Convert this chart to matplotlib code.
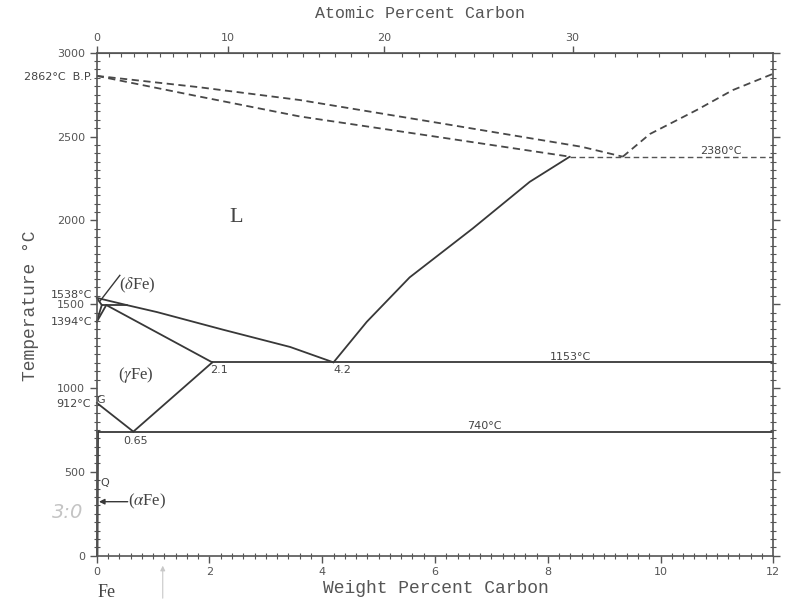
import numpy as np
import matplotlib
matplotlib.use("Agg")
import matplotlib.pyplot as plt
from matplotlib.ticker import MultipleLocator, FixedLocator

# phase boundaries (weight % C, deg C)
liq_hypo_w = [0.0, 0.53, 1.07, 2.24, 3.43, 4.2]
liq_hypo_T = [1538, 1495, 1453, 1348, 1245, 1153]
liq_hyper_w = [4.2, 4.79, 5.55, 6.67, 7.68, 8.39]
liq_hyper_T = [1153, 1395, 1660, 1952, 2230, 2380]
solidus_w = [0.17, 2.05]
solidus_T = [1495, 1153]
acm_w = [0.65, 2.05]
acm_T = [740, 1153]
a3_w = [0.0, 0.65]
a3_T = [912, 740]
eutectic_w = [2.05, 12.0]
eutectic_T = [1153, 1153]
eutectoid_w = [0.0, 12.0]
eutectoid_T = [740, 740]
alpha_w = [0.02, 0.01]
alpha_T = [740, 0]

# delta iron corner
delta_sol_w = [0.0, 0.09]
delta_sol_T = [1538, 1495]
delta_gam_w = [0.0, 0.09]
delta_gam_T = [1394, 1495]
gam_delta_w = [0.0, 0.17]
gam_delta_T = [1394, 1495]
perit_w = [0.09, 0.53]
perit_T = [1495, 1495]

# dashed (gas / graphite) boundaries
gas_up_w = [0.0, 1.8, 3.6, 6.3, 8.6, 9.33]
gas_up_T = [2862, 2795, 2718, 2568, 2439, 2380]
gas_lo_w = [0.0, 1.8, 3.6, 6.3, 8.39]
gas_lo_T = [2862, 2740, 2620, 2485, 2380]
gas_rt_w = [9.33, 9.81, 10.64, 11.28, 12.0]
gas_rt_T = [2380, 2515, 2658, 2777, 2875]
mono_w = [8.39, 12.0]
mono_T = [2380, 2380]

top_ticks = [0, 10, 20, 30]


def wt2at(w):
    w = np.asarray(w, dtype=float)
    nc = w / 12.011
    nfe = (100 - w) / 55.845
    return 100 * nc / (nc + nfe)


def at2wt(a):
    a = np.asarray(a, dtype=float)
    return 100 * a * 12.011 / (a * 12.011 + (100 - a) * 55.845)


plt.rcParams['mathtext.fontset'] = 'stix'
ink = '#383838'
grey = '#555555'

fig = plt.figure(figsize=(7.9, 6.04), dpi=100)
ax = fig.add_axes([0.1224, 0.0800, 0.8565, 0.8327])
ax.set_xlim(0, 12)
ax.set_ylim(0, 3000)

solid = dict(color=ink, lw=1.3, solid_capstyle='round', solid_joinstyle='round')
for w, t in [(liq_hypo_w, liq_hypo_T), (liq_hyper_w, liq_hyper_T),
             (solidus_w, solidus_T), (acm_w, acm_T), (a3_w, a3_T),
             (eutectic_w, eutectic_T), (eutectoid_w, eutectoid_T),
             (delta_sol_w, delta_sol_T), (delta_gam_w, delta_gam_T),
             (gam_delta_w, gam_delta_T), (perit_w, perit_T)]:
    ax.plot(w, t, clip_on=False, **solid)
ax.plot(alpha_w, alpha_T, color=ink, lw=1.6, clip_on=False)

dash = dict(color='#484848', lw=1.3, ls=(0, (4, 2.5)))
for w, t in [(gas_up_w, gas_up_T), (gas_lo_w, gas_lo_T),
             (gas_rt_w, gas_rt_T)]:
    ax.plot(w, t, **dash)
ax.plot(mono_w, mono_T, color=grey, lw=1.0, ls=(0, (4, 2.5)))

# axes styling
for s in ax.spines.values():
    s.set_color(grey)
    s.set_linewidth(1.2)
ax.xaxis.set_major_locator(MultipleLocator(2))
ax.xaxis.set_minor_locator(MultipleLocator(0.2))
ax.yaxis.set_major_locator(MultipleLocator(500))
ax.yaxis.set_minor_locator(MultipleLocator(50))
ax.tick_params(which='major', direction='out', length=5, width=1,
               color=grey, labelcolor=grey, labelsize=8, right=True)
ax.tick_params(which='minor', direction='inout', length=4, width=0.8,
               color=grey, right=True)
ax.tick_params(axis='y', which='both', labelright=False)

sec = ax.secondary_xaxis('top', functions=(wt2at, at2wt))
sec.xaxis.set_major_locator(FixedLocator(top_ticks))
sec.xaxis.set_minor_locator(FixedLocator(list(range(0, 39))))
sec.tick_params(which='major', direction='out', length=5, width=1,
                color=grey, labelcolor=grey, labelsize=8, pad=2)
sec.tick_params(which='minor', direction='in', length=3, width=0.8, color=grey)
sec.spines['top'].set_color(grey)

# axis titles
mono = 'Liberation Mono'
fig.text(0.532, 0.977, 'Atomic Percent Carbon', family=mono, size=12,
         color=grey, ha='center', va='center')
fig.text(0.552, 0.026, 'Weight Percent Carbon', family=mono, size=13,
         color=grey, ha='center', va='center')
fig.text(0.038, 0.493, 'Temperature \u00b0C', family=mono, size=13,
         color=grey, ha='center', va='center', rotation=90)

# point labels
small = dict(size=8, color='#444444', family='DejaVu Sans')
ax.text(-0.08, 2855, '2862\u00b0C  B.P.', ha='right', va='center', **small)
ax.text(-0.08, 1556, '1538\u00b0C', ha='right', va='center', **small)
ax.text(-0.08, 1392, '1394\u00b0C', ha='right', va='center', **small)
ax.text(-0.1, 904, '912\u00b0C', ha='right', va='center', **small)
ax.text(0.0, 930, 'G', ha='left', va='center', **small)
ax.text(0.06, 433, 'Q', ha='left', va='center', **small)
ax.text(2.01, 1107, '2.1', ha='left', va='center', **small)
ax.text(4.19, 1107, '4.2', ha='left', va='center', **small)
ax.text(0.47, 683, '0.65', ha='left', va='center', **small)
ax.text(8.04, 1158, '1153\u00b0C', ha='left', va='bottom', **small)
ax.text(6.57, 745, '740\u00b0C', ha='left', va='bottom', **small)
ax.text(10.7, 2385, '2380\u00b0C', ha='left', va='bottom', **small)

serif = dict(family='Liberation Serif', color='#444444')
ax.text(2.47, 2020, 'L', ha='center', va='center', size=16, **serif)
ax.text(0.40, 1614, r'($\delta$Fe)', ha='left', va='center', size=12, **serif)
ax.plot([0.05, 0.41], [1515, 1672], color=ink, lw=1.0)
ax.text(0.38, 1077, r'($\gamma$Fe)', ha='left', va='center', size=12, **serif)
ax.text(0.55, 322, r'($\alpha$Fe)', ha='left', va='center', size=12, **serif)
ax.annotate('', xy=(0.04, 322), xytext=(0.55, 322),
            arrowprops=dict(arrowstyle='-|>', color=ink, lw=1.0,
                            mutation_scale=8, shrinkA=0, shrinkB=0))
ax.text(0.02, -222, 'Fe', ha='left', va='center', size=13, **serif)

# pencil marks on the scan
fig.text(0.085, 0.152, '3:0', size=14, color='#c4c4c4', style='italic',
         ha='center', va='center')
fig.add_artist(matplotlib.patches.FancyArrowPatch(
    (0.206, 0.005), (0.206, 0.068), transform=fig.transFigure,
    arrowstyle='-|>', mutation_scale=7, color='#c8c8c8', lw=0.8))

fig.savefig('out.png', dpi=100)
